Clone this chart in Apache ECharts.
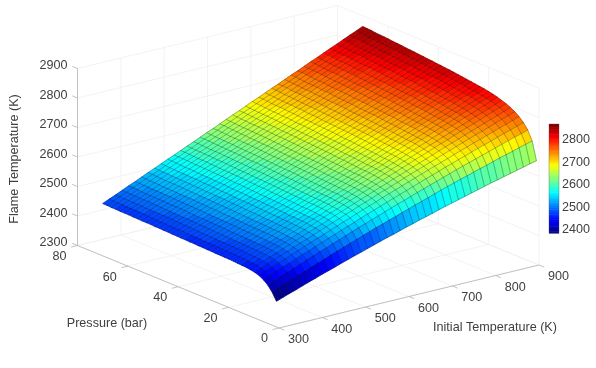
<!DOCTYPE html>
<html>
<head>
<meta charset="utf-8">
<style>html,body{margin:0;padding:0;background:#fff}#chart{width:596px;height:368px}</style>
<script src="https://cdn.jsdelivr.net/npm/echarts@6/dist/echarts.min.js"></script>
</head>
<body>
<div id="chart"></div>
<script>
const initialTemps = [300,315,330,345,360,375,390,405,420,435,450,465,480,495,510,525,540,555,570,585,600,615,630,645,660,675,690,705,720,735,750,765,780,795,810,825,840,855,870,885,900];
const pressures = [1,2.725,4.45,6.175,7.9,9.625,11.35,13.075,14.8,16.525,18.25,19.975,21.7,23.425,25.15,26.875,28.6,30.325,32.05,33.775,35.5,37.225,38.95,40.675,42.4,44.125,45.85,47.575,49.3,51.025,52.75,54.475,56.2,57.925,59.65,61.375,63.1,64.825,66.55,68.275,70];
// flame temperature, one row per pressure
const flameTemps = [
[2387,2395,2403,2410,2418,2426,2433,2441,2448,2455,2463,2470,2477,2484,2491,2498,2505,2512,2518,2525,2532,2538,2545,2551,2557,2564,2570,2576,2582,2588,2594,2600,2606,2612,2617,2623,2628,2634,2639,2645,2650],
[2412,2421,2430,2438,2447,2455,2464,2472,2480,2489,2497,2505,2513,2521,2529,2537,2545,2552,2560,2567,2575,2582,2590,2597,2604,2612,2619,2626,2633,2640,2646,2653,2660,2666,2673,2680,2686,2692,2699,2705,2711],
[2430,2439,2448,2457,2465,2474,2483,2491,2500,2508,2517,2525,2533,2542,2550,2558,2566,2574,2582,2590,2598,2605,2613,2621,2628,2636,2643,2651,2658,2666,2673,2680,2687,2694,2701,2708,2715,2722,2729,2735,2742],
[2442,2451,2460,2469,2477,2486,2495,2503,2512,2520,2529,2537,2546,2554,2562,2571,2579,2587,2595,2603,2611,2619,2627,2635,2643,2651,2658,2666,2674,2681,2689,2696,2704,2711,2718,2725,2733,2740,2747,2754,2761],
[2450,2459,2468,2477,2485,2494,2503,2512,2520,2529,2537,2546,2554,2563,2571,2580,2588,2596,2604,2613,2621,2629,2637,2645,2653,2661,2669,2677,2684,2692,2700,2708,2715,2723,2730,2738,2745,2753,2760,2768,2775],
[2455,2464,2473,2482,2490,2499,2508,2517,2525,2534,2543,2551,2560,2568,2577,2585,2594,2602,2610,2619,2627,2635,2643,2652,2660,2668,2676,2684,2692,2700,2708,2716,2724,2732,2740,2747,2755,2763,2771,2778,2786],
[2458,2467,2476,2485,2493,2502,2511,2520,2528,2537,2546,2554,2563,2572,2580,2589,2597,2606,2614,2623,2631,2639,2648,2656,2664,2673,2681,2689,2697,2706,2714,2722,2730,2738,2746,2754,2762,2770,2778,2786,2794],
[2460,2469,2478,2487,2496,2505,2513,2522,2531,2540,2548,2557,2566,2575,2583,2592,2601,2609,2618,2626,2635,2643,2652,2660,2669,2677,2686,2694,2702,2711,2719,2727,2736,2744,2752,2760,2768,2777,2785,2793,2801],
[2461,2470,2479,2488,2497,2506,2515,2523,2532,2541,2550,2559,2567,2576,2585,2594,2602,2611,2620,2628,2637,2646,2654,2663,2671,2680,2688,2697,2705,2714,2722,2731,2739,2748,2756,2764,2773,2781,2789,2798,2806],
[2462,2471,2480,2489,2498,2507,2516,2525,2534,2542,2551,2560,2569,2578,2587,2595,2604,2613,2622,2630,2639,2648,2657,2665,2674,2683,2691,2700,2709,2717,2726,2734,2743,2751,2760,2769,2777,2786,2794,2803,2811],
[2463,2472,2481,2490,2499,2508,2517,2526,2534,2543,2552,2561,2570,2579,2588,2597,2606,2614,2623,2632,2641,2650,2658,2667,2676,2685,2693,2702,2711,2720,2728,2737,2746,2754,2763,2772,2780,2789,2798,2806,2815],
[2464,2473,2482,2491,2500,2509,2518,2526,2535,2544,2553,2562,2571,2580,2589,2598,2606,2615,2624,2633,2642,2651,2660,2668,2677,2686,2695,2704,2713,2721,2730,2739,2748,2757,2765,2774,2783,2792,2801,2809,2818],
[2464,2473,2482,2491,2500,2509,2518,2526,2535,2544,2553,2562,2571,2580,2589,2598,2607,2616,2625,2634,2642,2651,2660,2669,2678,2687,2696,2705,2714,2723,2732,2741,2750,2758,2767,2776,2785,2794,2803,2812,2821],
[2465,2474,2483,2492,2501,2510,2519,2528,2537,2546,2555,2563,2572,2581,2590,2599,2608,2617,2626,2635,2644,2653,2662,2671,2680,2689,2698,2707,2716,2725,2734,2742,2751,2760,2769,2778,2787,2796,2805,2814,2823],
[2465,2474,2483,2492,2501,2510,2519,2528,2537,2546,2555,2564,2573,2582,2591,2600,2609,2618,2627,2636,2645,2654,2663,2672,2681,2690,2699,2708,2717,2726,2735,2744,2753,2762,2771,2780,2789,2798,2807,2816,2825],
[2466,2475,2484,2493,2502,2511,2520,2529,2538,2547,2556,2565,2574,2583,2592,2601,2610,2619,2628,2637,2647,2656,2665,2674,2683,2692,2701,2710,2719,2728,2737,2746,2755,2764,2773,2782,2791,2800,2809,2818,2827],
[2466,2475,2484,2493,2502,2511,2520,2530,2539,2548,2557,2566,2575,2584,2593,2602,2611,2620,2629,2638,2648,2657,2666,2675,2684,2693,2702,2711,2720,2729,2738,2747,2756,2766,2775,2784,2793,2802,2811,2820,2829],
[2467,2476,2485,2494,2503,2513,2522,2531,2540,2549,2558,2567,2576,2585,2594,2604,2613,2622,2631,2640,2649,2658,2667,2676,2685,2695,2704,2713,2722,2731,2740,2749,2758,2767,2776,2786,2795,2804,2813,2822,2831],
[2467,2476,2485,2494,2504,2513,2522,2531,2540,2549,2559,2568,2577,2586,2595,2604,2613,2623,2632,2641,2650,2659,2668,2677,2687,2696,2705,2714,2723,2732,2742,2751,2760,2769,2778,2787,2796,2806,2815,2824,2833],
[2468,2477,2486,2496,2505,2514,2523,2532,2541,2551,2560,2569,2578,2587,2596,2606,2615,2624,2633,2642,2652,2661,2670,2679,2688,2697,2707,2716,2725,2734,2743,2752,2762,2771,2780,2789,2798,2807,2817,2826,2835],
[2468,2477,2486,2496,2505,2514,2523,2533,2542,2551,2560,2569,2579,2588,2597,2606,2616,2625,2634,2643,2653,2662,2671,2680,2689,2699,2708,2717,2726,2736,2745,2754,2763,2772,2782,2791,2800,2809,2819,2828,2837],
[2469,2478,2487,2497,2506,2515,2524,2534,2543,2552,2561,2570,2580,2589,2598,2607,2617,2626,2635,2644,2654,2663,2672,2681,2690,2700,2709,2718,2727,2737,2746,2755,2764,2773,2783,2792,2801,2810,2820,2829,2838],
[2469,2478,2488,2497,2506,2515,2525,2534,2543,2552,2562,2571,2580,2590,2599,2608,2617,2627,2636,2645,2655,2664,2673,2682,2692,2701,2710,2719,2729,2738,2747,2756,2766,2775,2784,2794,2803,2812,2821,2831,2840],
[2470,2479,2489,2498,2507,2516,2526,2535,2544,2553,2563,2572,2581,2591,2600,2609,2618,2628,2637,2646,2656,2665,2674,2683,2693,2702,2711,2720,2730,2739,2748,2757,2767,2776,2785,2795,2804,2813,2822,2832,2841],
[2470,2479,2489,2498,2507,2517,2526,2535,2545,2554,2563,2573,2582,2591,2601,2610,2619,2629,2638,2647,2657,2666,2675,2684,2694,2703,2712,2722,2731,2740,2750,2759,2768,2778,2787,2796,2806,2815,2824,2834,2843],
[2471,2480,2490,2499,2508,2518,2527,2536,2546,2555,2564,2574,2583,2592,2602,2611,2620,2630,2639,2648,2658,2667,2676,2685,2695,2704,2713,2723,2732,2741,2751,2760,2769,2779,2788,2797,2807,2816,2825,2835,2844],
[2471,2480,2490,2499,2509,2518,2527,2537,2546,2555,2565,2574,2584,2593,2602,2612,2621,2630,2640,2649,2659,2668,2677,2687,2696,2705,2715,2724,2734,2743,2752,2762,2771,2780,2790,2799,2809,2818,2827,2837,2846],
[2472,2481,2491,2500,2510,2519,2528,2538,2547,2556,2566,2575,2585,2594,2603,2613,2622,2631,2641,2650,2660,2669,2678,2688,2697,2706,2716,2725,2735,2744,2753,2763,2772,2781,2791,2800,2810,2819,2828,2838,2847],
[2472,2481,2491,2500,2510,2519,2529,2538,2547,2557,2566,2576,2585,2594,2604,2613,2623,2632,2642,2651,2661,2670,2679,2689,2698,2708,2717,2726,2736,2745,2755,2764,2774,2783,2792,2802,2811,2821,2830,2840,2849],
[2473,2482,2492,2501,2511,2520,2530,2539,2548,2558,2567,2577,2586,2595,2605,2614,2624,2633,2643,2652,2662,2671,2680,2690,2699,2709,2718,2727,2737,2746,2756,2765,2775,2784,2793,2803,2812,2822,2831,2841,2850],
[2473,2482,2492,2501,2511,2520,2530,2539,2549,2558,2568,2577,2586,2596,2605,2615,2624,2634,2643,2653,2662,2671,2681,2690,2700,2709,2719,2728,2738,2747,2757,2766,2775,2785,2794,2804,2813,2823,2832,2842,2851],
[2473,2483,2492,2502,2511,2521,2530,2540,2549,2559,2568,2578,2587,2597,2606,2616,2625,2635,2644,2654,2663,2673,2682,2692,2701,2711,2720,2730,2739,2749,2758,2768,2777,2787,2796,2806,2815,2825,2834,2844,2853],
[2474,2484,2493,2503,2512,2522,2531,2541,2550,2560,2569,2579,2588,2598,2607,2617,2626,2636,2645,2655,2664,2674,2683,2693,2702,2712,2721,2731,2740,2750,2759,2769,2778,2788,2797,2807,2816,2826,2835,2845,2854],
[2474,2484,2493,2503,2512,2522,2531,2541,2550,2560,2569,2579,2588,2598,2607,2617,2626,2636,2645,2655,2665,2674,2684,2693,2703,2712,2722,2731,2741,2750,2760,2769,2779,2788,2798,2807,2817,2826,2836,2845,2855],
[2475,2485,2494,2504,2513,2523,2532,2542,2551,2561,2571,2580,2590,2599,2609,2618,2628,2637,2647,2656,2666,2676,2685,2695,2704,2714,2723,2733,2742,2752,2762,2771,2781,2790,2800,2809,2819,2828,2838,2847,2857],
[2475,2485,2494,2504,2513,2523,2532,2542,2552,2561,2571,2580,2590,2600,2609,2619,2628,2638,2647,2657,2667,2676,2686,2695,2705,2714,2724,2734,2743,2753,2762,2772,2781,2791,2801,2810,2820,2829,2839,2848,2858],
[2475,2485,2494,2504,2513,2523,2533,2542,2552,2561,2571,2581,2590,2600,2609,2619,2629,2638,2648,2657,2667,2677,2686,2696,2705,2715,2725,2734,2744,2753,2763,2773,2782,2792,2801,2811,2821,2830,2840,2849,2859],
[2476,2486,2495,2505,2514,2524,2534,2543,2553,2562,2572,2582,2591,2601,2610,2620,2630,2639,2649,2658,2668,2678,2687,2697,2706,2716,2726,2735,2745,2754,2764,2774,2783,2793,2802,2812,2822,2831,2841,2850,2860],
[2476,2486,2495,2505,2515,2524,2534,2544,2553,2563,2573,2582,2592,2601,2611,2621,2630,2640,2650,2659,2669,2679,2688,2698,2708,2717,2727,2737,2746,2756,2766,2775,2785,2794,2804,2814,2823,2833,2843,2852,2862],
[2477,2487,2496,2506,2516,2525,2535,2545,2554,2564,2574,2583,2593,2602,2612,2622,2631,2641,2651,2660,2670,2680,2689,2699,2709,2718,2728,2738,2747,2757,2767,2776,2786,2795,2805,2815,2824,2834,2844,2853,2863],
[2477,2487,2496,2506,2516,2525,2535,2545,2554,2564,2574,2583,2593,2603,2612,2622,2632,2641,2651,2661,2671,2680,2690,2700,2709,2719,2729,2738,2748,2758,2767,2777,2787,2796,2806,2816,2825,2835,2845,2854,2864]
];
const xTicks = [300,400,500,600,700,800,900];
const yTicks = [0,20,40,60,80];
const zTicks = [2300,2400,2500,2600,2700,2800,2900];
const barTicks = [2400,2500,2600,2700,2800];

const FONT = '12.6px "Liberation Sans", Arial, sans-serif';
const TEXT = '#404040';
const C_MIN = 2385, C_MAX = 2870, LEVELS = 64;

// fixed orthographic view, same as the original camera
function project(x, y, z) {
  const fx = (x - 300) / 600, fy = y / 80, fz = (z - 2300) / 600;
  return [279 + 260 * fx - 201.5 * fy, 328 - 63 * fx - 82.5 * fy - 177 * fz];
}

function jet(t) {
  const c = (v) => Math.round(255 * Math.max(0, Math.min(1, v)));
  return `rgb(${c(Math.min(4 * t - 1.5, -4 * t + 4.5))},${c(Math.min(4 * t - 0.5, -4 * t + 3.5))},${c(Math.min(4 * t + 0.5, -4 * t + 2.5))})`;
}
function levelColor(k) { return jet((k + 0.5) / LEVELS); }
function tempColor(v) {
  const k = Math.floor((v - C_MIN) / (C_MAX - C_MIN) * LEVELS);
  return levelColor(Math.max(0, Math.min(LEVELS - 1, k)));
}

// walls and floor
const gridSegs = [];
xTicks.forEach((x) => {
  gridSegs.push([[x, 0, 2300], [x, 80, 2300]]);
  gridSegs.push([[x, 80, 2300], [x, 80, 2900]]);
});
yTicks.forEach((y) => {
  gridSegs.push([[300, y, 2300], [900, y, 2300]]);
  gridSegs.push([[900, y, 2300], [900, y, 2900]]);
});
zTicks.forEach((z) => {
  gridSegs.push([[300, 80, z], [900, 80, z]]);
  gridSegs.push([[900, 80, z], [900, 0, z]]);
});

const axisSegs = [
  [[300, 0, 2300], [900, 0, 2300]],
  [[300, 0, 2300], [300, 80, 2300]],
  [[300, 80, 2300], [300, 80, 2900]],
];
xTicks.forEach((x) => axisSegs.push([[x, 0, 2300], [x, -2.1, 2300]]));
yTicks.forEach((y) => axisSegs.push([[300, y, 2300], [285, y, 2300]]));
zTicks.forEach((z) => axisSegs.push([[300, 80, z], [300, 82.1, z]]));

// surface cells, far corner first
const cells = [];
for (let j = pressures.length - 2; j >= 0; j--) {
  for (let i = initialTemps.length - 2; i >= 0; i--) cells.push([i, j]);
}
const meshLines = [];
pressures.forEach((p, j) => meshLines.push(initialTemps.map((t, i) => [t, p, flameTemps[j][i]])));
initialTemps.forEach((t, i) => meshLines.push(pressures.map((p, j) => [t, p, flameTemps[j][i]])));

const labels = [];
xTicks.forEach((x) => labels.push({ text: String(x), at: project(x, 0, 2300), dx: 19.5, dy: 12, align: 'center' }));
yTicks.forEach((y) => labels.push({ text: String(y), at: project(300, y, 2300), dx: -11, dy: 11, align: 'right' }));
zTicks.forEach((z) => labels.push({ text: String(z), at: project(300, 80, z), dx: -10, dy: -2.7, align: 'right' }));
labels.push({ text: 'Initial Temperature (K)', at: [495, 327.3], dx: 0, dy: 0, align: 'center' });
labels.push({ text: 'Pressure (bar)', at: [107, 323.5], dx: 0, dy: 0, align: 'center' });
labels.push({ text: 'Flame Temperature (K)', at: [14.5, 159], dx: 0, dy: 0, align: 'center', rotation: Math.PI / 2 });

function indexData(list) { return list.map((_, i) => [i, 0]); }
function segRender(list, style) {
  return (params, api) => {
    const s = list[params.dataIndex];
    const a = api.coord(project(...s[0])), b = api.coord(project(...s[1]));
    return { type: 'line', shape: { x1: a[0], y1: a[1], x2: b[0], y2: b[1] }, style, silent: true };
  };
}
const sceneSeries = (extra) => Object.assign({ type: 'custom', coordinateSystem: 'cartesian2d', xAxisIndex: 0, yAxisIndex: 0, silent: true, clip: false, animation: false, progressive: 0 }, extra);

const levels = [];
for (let k = 0; k < LEVELS; k++) levels.push(k);
const levelStep = (C_MAX - C_MIN) / LEVELS;

const chart = echarts.init(document.getElementById('chart'), null, { renderer: 'canvas' });
chart.setOption({
  animation: false,
  backgroundColor: '#fff',
  grid: [
    { left: 0, top: 0, width: 596, height: 368 },
    { left: 549, top: 124, width: 10, height: 109 },
  ],
  xAxis: [
    { type: 'value', min: 0, max: 596, show: false },
    { type: 'value', min: 0, max: 1, show: false, gridIndex: 1 },
  ],
  yAxis: [
    { type: 'value', min: 0, max: 368, inverse: true, show: false },
    {
      type: 'value', min: C_MIN, max: C_MAX, gridIndex: 1, position: 'right',
      splitLine: { show: false }, axisLine: { show: false },
      axisTick: { show: false },
      axisLabel: { customValues: barTicks, formatter: (v) => String(v), margin: 3, color: TEXT, fontSize: 12.6, fontFamily: '"Liberation Sans", Arial, sans-serif' },
    },
  ],
  series: [
    sceneSeries({
      z: 1, data: indexData(gridSegs),
      renderItem: segRender(gridSegs, { stroke: '#f0f0f0', lineWidth: 0.8 }),
    }),
    sceneSeries({
      z: 2, data: indexData(axisSegs),
      renderItem: segRender(axisSegs, { stroke: '#b4b4b4', lineWidth: 0.8 }),
    }),
    sceneSeries({
      z: 3, data: indexData(cells),
      renderItem: (params, api) => {
        const [i, j] = cells[params.dataIndex];
        const t0 = initialTemps[i], t1 = initialTemps[i + 1], p0 = pressures[j], p1 = pressures[j + 1];
        const pts = [
          project(t0, p0, flameTemps[j][i]),
          project(t1, p0, flameTemps[j][i + 1]),
          project(t1, p1, flameTemps[j + 1][i + 1]),
          project(t0, p1, flameTemps[j + 1][i]),
        ].map((q) => api.coord(q));
        const color = tempColor(flameTemps[j][i]);
        return { type: 'polygon', shape: { points: pts }, style: { fill: color, stroke: color, lineWidth: 0.6 }, silent: true };
      },
    }),
    sceneSeries({
      z: 4, data: indexData(meshLines),
      renderItem: (params, api) => ({
        type: 'polyline',
        shape: { points: meshLines[params.dataIndex].map((q) => api.coord(project(...q))) },
        style: { fill: null, stroke: 'rgba(0,0,0,0.34)', lineWidth: 0.85 },
        silent: true,
      }),
    }),
    sceneSeries({
      z: 5, data: indexData(labels),
      renderItem: (params, api) => {
        const l = labels[params.dataIndex];
        const p = api.coord(l.at);
        return {
          type: 'text', x: p[0] + l.dx, y: p[1] + l.dy, rotation: l.rotation || 0, silent: true,
          style: { text: l.text, font: FONT, fill: TEXT, align: l.align, verticalAlign: 'middle' },
        };
      },
    }),
    {
      type: 'custom', coordinateSystem: 'cartesian2d', xAxisIndex: 1, yAxisIndex: 1, silent: true, animation: false, z: 3,
      data: levels.map((k) => [0, C_MIN + k * levelStep]),
      renderItem: (params, api) => {
        const k = levels[params.dataIndex];
        const a = api.coord([0, C_MIN + k * levelStep]), b = api.coord([1, C_MIN + (k + 1) * levelStep]);
        return { type: 'rect', shape: { x: a[0], y: b[1], width: b[0] - a[0], height: a[1] - b[1] + 0.5 }, style: { fill: levelColor(k) }, silent: true };
      },
    },
    {
      type: 'custom', coordinateSystem: 'cartesian2d', xAxisIndex: 1, yAxisIndex: 1, silent: true, animation: false, z: 4,
      data: [[0, C_MIN]],
      renderItem: (params, api) => {
        const a = api.coord([0, C_MIN]), b = api.coord([1, C_MAX]);
        return { type: 'rect', shape: { x: a[0], y: b[1], width: b[0] - a[0], height: a[1] - b[1] }, style: { fill: null, stroke: 'rgba(64,64,64,0.55)', lineWidth: 0.6 }, silent: true };
      },
    },
  ],
});
</script>
</body>
</html>
